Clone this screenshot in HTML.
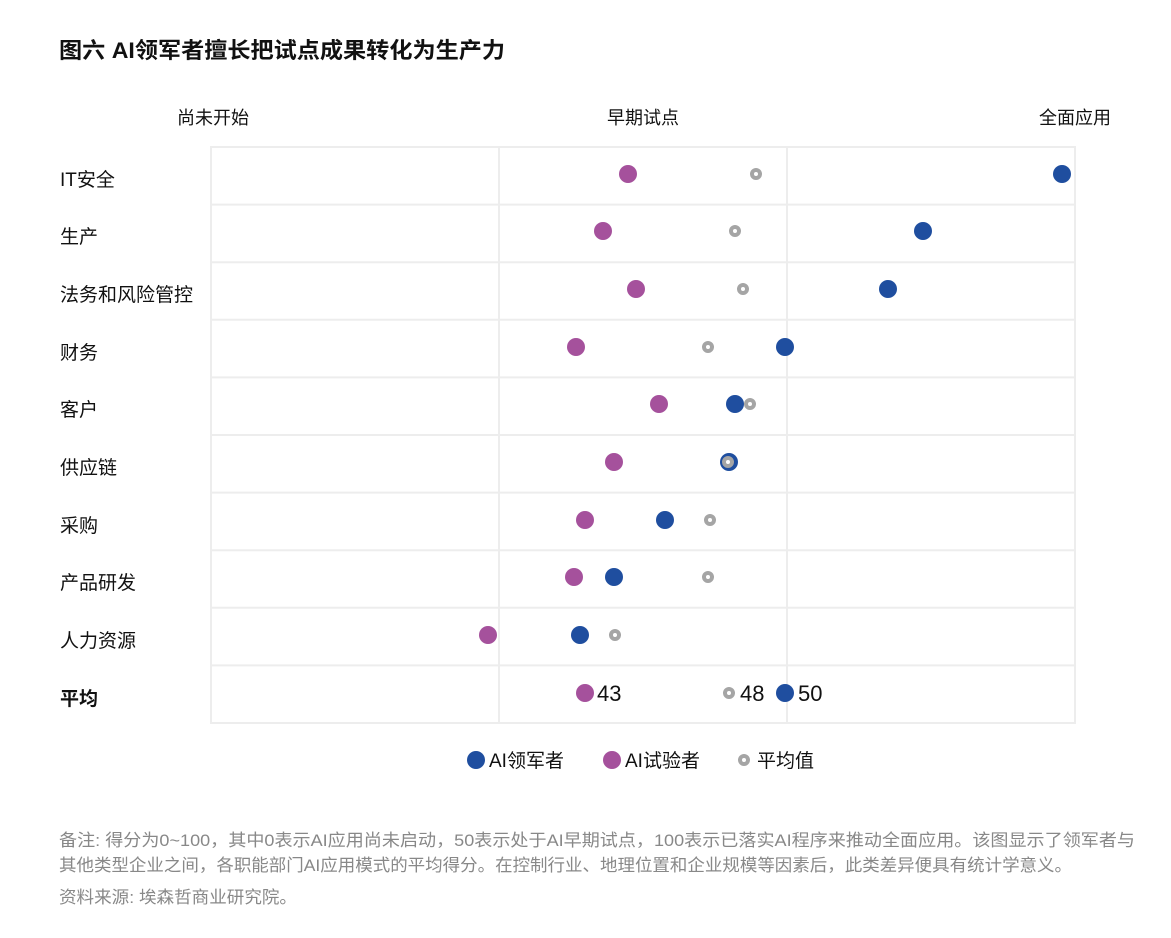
<!DOCTYPE html>
<html><head><meta charset="utf-8"><style>
body{margin:0;background:#fff;}
text{font-family:"Liberation Sans","Noto Sans CJK SC",sans-serif;}
</style></head><body>
<svg width="1171" height="933" xmlns="http://www.w3.org/2000/svg">
<text x="59" y="58" font-size="22" font-weight="bold" fill="#111" textLength="446" lengthAdjust="spacingAndGlyphs">图六  AI领军者擅长把试点成果转化为生产力</text>
<text x="213" y="124" font-size="18" text-anchor="middle" fill="#111">尚未开始</text>
<text x="643" y="124" font-size="18" text-anchor="middle" fill="#111">早期试点</text>
<text x="1075" y="124" font-size="18" text-anchor="middle" fill="#111">全面应用</text>
<g stroke="#ededed" stroke-width="2" fill="none">
<rect x="211" y="147" width="864" height="576"/>
<line x1="499" y1="147" x2="499" y2="723"/><line x1="787" y1="147" x2="787" y2="723"/>
<line x1="211" y1="204.6" x2="1075" y2="204.6"/><line x1="211" y1="262.2" x2="1075" y2="262.2"/>
<line x1="211" y1="319.8" x2="1075" y2="319.8"/><line x1="211" y1="377.4" x2="1075" y2="377.4"/>
<line x1="211" y1="435" x2="1075" y2="435"/><line x1="211" y1="492.6" x2="1075" y2="492.6"/>
<line x1="211" y1="550.2" x2="1075" y2="550.2"/><line x1="211" y1="607.8" x2="1075" y2="607.8"/>
<line x1="211" y1="665.4" x2="1075" y2="665.4"/>
</g>
<g font-size="19" fill="#111">
<text x="60" y="186">IT安全</text><text x="60" y="243">生产</text><text x="60" y="301">法务和风险管控</text>
<text x="60" y="359">财务</text><text x="60" y="416">客户</text><text x="60" y="474">供应链</text>
<text x="60" y="532">采购</text><text x="60" y="589">产品研发</text><text x="60" y="647">人力资源</text>
<text x="60" y="705" font-weight="bold">平均</text>
</g>
<g fill="#a5519c">
<circle cx="628" cy="174" r="9"/><circle cx="603" cy="231" r="9"/><circle cx="636" cy="289" r="9"/>
<circle cx="576" cy="347" r="9"/><circle cx="659" cy="404" r="9"/><circle cx="614" cy="462" r="9"/>
<circle cx="585" cy="520" r="9"/><circle cx="574" cy="577" r="9"/><circle cx="488" cy="635" r="9"/>
<circle cx="585" cy="693" r="9"/>
</g>
<g fill="#1f4e9f">
<circle cx="1062" cy="174" r="9"/><circle cx="923" cy="231" r="9"/><circle cx="888" cy="289" r="9"/>
<circle cx="785" cy="347" r="9"/><circle cx="735" cy="404" r="9"/><circle cx="729" cy="462" r="9"/>
<circle cx="665" cy="520" r="9"/><circle cx="614" cy="577" r="9"/><circle cx="580" cy="635" r="9"/>
<circle cx="785" cy="693" r="9"/>
</g>
<g fill="#fff" stroke="#a5a5a5" stroke-width="4">
<circle cx="756" cy="174" r="4"/><circle cx="735" cy="231" r="4"/><circle cx="743" cy="289" r="4"/>
<circle cx="708" cy="347" r="4"/><circle cx="750" cy="404" r="4"/><circle cx="728" cy="462" r="4"/>
<circle cx="710" cy="520" r="4"/><circle cx="708" cy="577" r="4"/><circle cx="615" cy="635" r="4"/>
<circle cx="729" cy="693" r="4"/>
</g>
<g font-size="22" fill="#111">
<text x="597" y="701">43</text><text x="740" y="701">48</text><text x="798" y="701">50</text>
</g>
<circle cx="476" cy="760" r="9" fill="#1f4e9f"/>
<text x="489" y="767" font-size="19" fill="#111">AI领军者</text>
<circle cx="612" cy="760" r="9" fill="#a5519c"/>
<text x="625" y="767" font-size="19" fill="#111">AI试验者</text>
<circle cx="744" cy="760" r="4" fill="#fff" stroke="#a5a5a5" stroke-width="4"/>
<text x="757" y="767" font-size="19" fill="#111">平均值</text>
<g font-size="17" fill="#888">
<text x="59" y="846" textLength="1076" lengthAdjust="spacingAndGlyphs">备注: 得分为0~100，其中0表示AI应用尚未启动，50表示处于AI早期试点，100表示已落实AI程序来推动全面应用。该图显示了领军者与</text>
<text x="59" y="871" textLength="1013" lengthAdjust="spacingAndGlyphs">其他类型企业之间，各职能部门AI应用模式的平均得分。在控制行业、地理位置和企业规模等因素后，此类差异便具有统计学意义。</text>
<text x="59" y="903" textLength="238" lengthAdjust="spacingAndGlyphs">资料来源: 埃森哲商业研究院。</text>
</g>
</svg>
</body></html>
